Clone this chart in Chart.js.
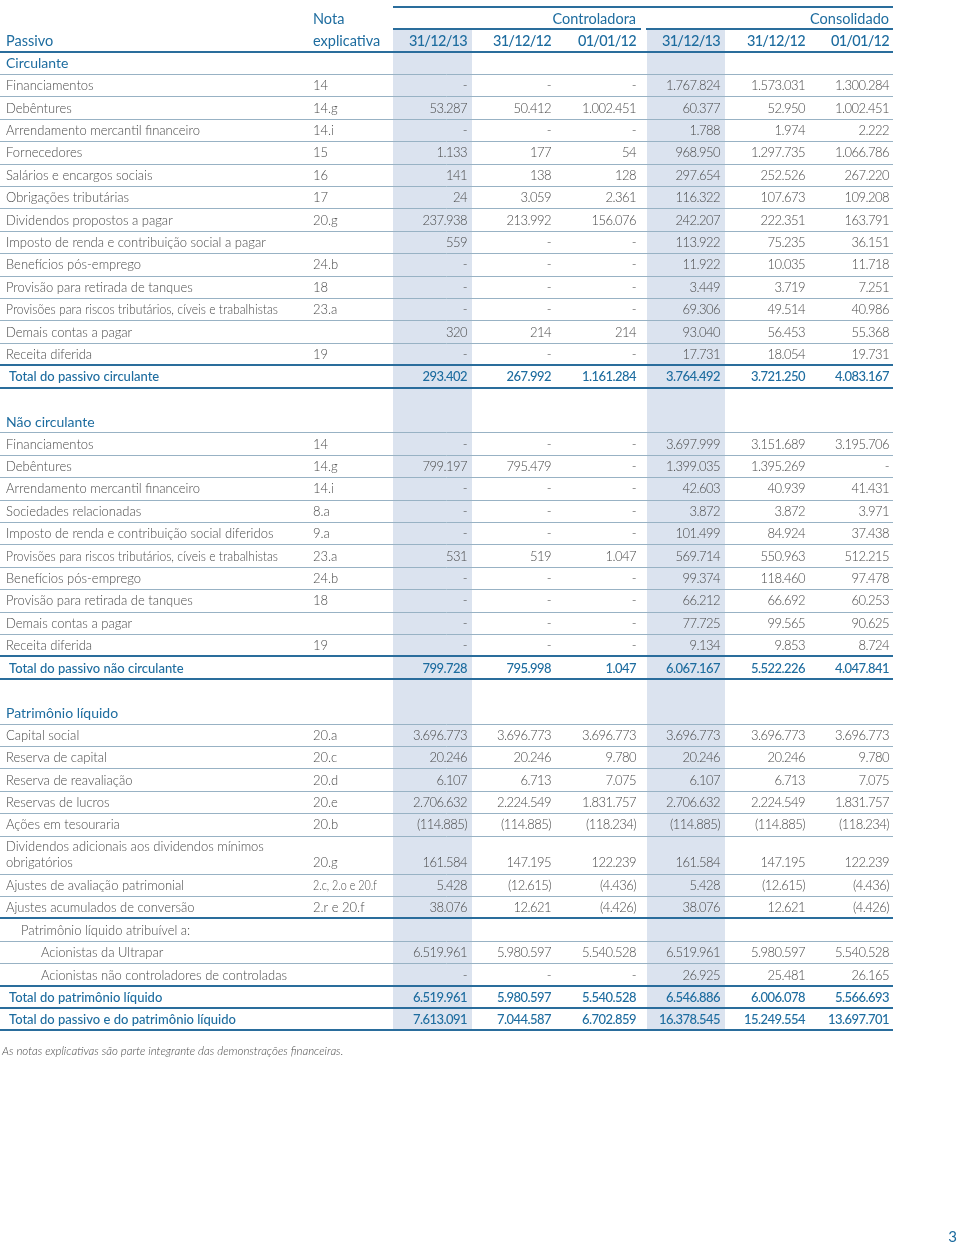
<!DOCTYPE html>
<html lang="pt-BR">
<head>
<meta charset="utf-8">
<script src="https://cdn.jsdelivr.net/npm/chart.js@4.4.0/dist/chart.umd.min.js"></script>
<style>
html, body { margin: 0; padding: 0; background: #fff; }
#wrap { position: relative; width: 960px; height: 1248px; }
</style>
</head>
<body>
<div id="wrap"><canvas id="balanco"></canvas></div>
<script>
// --- DATA ---
const groupHeads = ['Controladora', 'Consolidado'];
const colHeads = ['31/12/13', '31/12/12', '01/01/12', '31/12/13', '31/12/12', '01/01/12'];

const rowLabels = [
  'Circulante', 'Financiamentos', 'Debêntures', 'Arrendamento mercantil financeiro', 'Fornecedores',
  'Salários e encargos sociais', 'Obrigações tributárias', 'Dividendos propostos a pagar',
  'Imposto de renda e contribuição social a pagar', 'Benefícios pós-emprego', 'Provisão para retirada de tanques',
  'Provisões para riscos tributários, cíveis e trabalhistas', 'Demais contas a pagar', 'Receita diferida',
  'Total do passivo circulante', '',
  'Não circulante', 'Financiamentos', 'Debêntures', 'Arrendamento mercantil financeiro', 'Sociedades relacionadas',
  'Imposto de renda e contribuição social diferidos', 'Provisões para riscos tributários, cíveis e trabalhistas',
  'Benefícios pós-emprego', 'Provisão para retirada de tanques', 'Demais contas a pagar', 'Receita diferida',
  'Total do passivo não circulante', '',
  'Patrimônio líquido', 'Capital social', 'Reserva de capital', 'Reserva de reavaliação', 'Reservas de lucros',
  'Ações em tesouraria', 'Dividendos adicionais aos dividendos mínimos\nobrigatórios',
  'Ajustes de avaliação patrimonial', 'Ajustes acumulados de conversão', 'Patrimônio líquido atribuível a:',
  'Acionistas da Ultrapar', 'Acionistas não controladores de controladas',
  'Total do patrimônio líquido', 'Total do passivo e do patrimônio líquido'
];
const rowKinds = [
  'section', 'item', 'item', 'item', 'item', 'item', 'item', 'item', 'item', 'item', 'item', 'item', 'item', 'item',
  'total', 'blank',
  'section', 'item', 'item', 'item', 'item', 'item', 'item', 'item', 'item', 'item', 'item',
  'total', 'blank',
  'section', 'item', 'item', 'item', 'item', 'item', 'item', 'item', 'item', 'subhead',
  'sub', 'sub', 'total', 'total'
];
const rowNotes = [
  '', '14', '14.g', '14.i', '15', '16', '17', '20.g', '', '24.b', '18', '23.a', '', '19', '', '',
  '', '14', '14.g', '14.i', '8.a', '9.a', '23.a', '24.b', '18', '', '19', '', '',
  '', '20.a', '20.c', '20.d', '20.e', '20.b', '20.g', '2.c, 2.o e 20.f', '2.r e 20.f', '', '', '', '', ''
];

// 0 is printed as "-", null means empty cell
const ctrl_2013 = [null, 0, 53287, 0, 1133, 141, 24, 237938, 559, 0, 0, 0, 320, 0, 293402, null,
  null, 0, 799197, 0, 0, 0, 531, 0, 0, 0, 0, 799728, null,
  null, 3696773, 20246, 6107, 2706632, -114885, 161584, 5428, 38076, null, 6519961, 0, 6519961, 7613091];
const ctrl_2012 = [null, 0, 50412, 0, 177, 138, 3059, 213992, 0, 0, 0, 0, 214, 0, 267992, null,
  null, 0, 795479, 0, 0, 0, 519, 0, 0, 0, 0, 795998, null,
  null, 3696773, 20246, 6713, 2224549, -114885, 147195, -12615, 12621, null, 5980597, 0, 5980597, 7044587];
const ctrl_0112 = [null, 0, 1002451, 0, 54, 128, 2361, 156076, 0, 0, 0, 0, 214, 0, 1161284, null,
  null, 0, 0, 0, 0, 0, 1047, 0, 0, 0, 0, 1047, null,
  null, 3696773, 9780, 7075, 1831757, -118234, 122239, -4436, -4426, null, 5540528, 0, 5540528, 6702859];
const cons_2013 = [null, 1767824, 60377, 1788, 968950, 297654, 116322, 242207, 113922, 11922, 3449, 69306, 93040, 17731, 3764492, null,
  null, 3697999, 1399035, 42603, 3872, 101499, 569714, 99374, 66212, 77725, 9134, 6067167, null,
  null, 3696773, 20246, 6107, 2706632, -114885, 161584, 5428, 38076, null, 6519961, 26925, 6546886, 16378545];
const cons_2012 = [null, 1573031, 52950, 1974, 1297735, 252526, 107673, 222351, 75235, 10035, 3719, 49514, 56453, 18054, 3721250, null,
  null, 3151689, 1395269, 40939, 3872, 84924, 550963, 118460, 66692, 99565, 9853, 5522226, null,
  null, 3696773, 20246, 6713, 2224549, -114885, 147195, -12615, 12621, null, 5980597, 25481, 6006078, 15249554];
const cons_0112 = [null, 1300284, 1002451, 2222, 1066786, 267220, 109208, 163791, 36151, 11718, 7251, 40986, 55368, 19731, 4083167, null,
  null, 3195706, 0, 41431, 3971, 37438, 512215, 97478, 60253, 90625, 8724, 4047841, null,
  null, 3696773, 9780, 7075, 1831757, -118234, 122239, -4436, -4426, null, 5540528, 26165, 5566693, 13697701];

const valueCols = [ctrl_2013, ctrl_2012, ctrl_0112, cons_2013, cons_2012, cons_0112];

const footnote = 'As notas explicativas são parte integrante das demonstrações financeiras.';
const pageNumber = '3';

// --- LAYOUT (x in page units, y in row units) ---
const LX = { label: 6, total: 9, subhead: 21, sub: 41, nota: 313, lineEnd: 893,
  valRight: [467, 551, 636, 720, 805, 889], bands: [[393, 472], [647, 725]],
  groupLines: [[393, 641], [646, 893]], groupRight: [636, 889] };
const FIRST_ROW = 2;          // rows start after the two header rows
const TWO_LINE = 1.7;         // height of a wrapped label row
const TEXT_DY = 0.04;         // small downward nudge for text
const FOOT_ROW = 46.07;
const PAGE_ROW = 54.4;

const BLUE = '#1d6c9f';
const DARK = '#2a6d9c';
const THIN = '#98b2c4';
const TEXT = '#4a4a4a';
const BAND = '#dbe3ef';

function fmt(v) {
  if (v === null) return '';
  if (v === 0) return '-';
  const s = Math.abs(v).toString().replace(/\B(?=(\d{3})+(?!\d))/g, '.');
  return v < 0 ? '(' + s + ')' : s;
}

// row tops in row units
const rowTop = [];
let acc = FIRST_ROW - 0.5;
rowLabels.forEach(l => {
  rowTop.push(acc);
  acc += l.includes('\n') ? TWO_LINE : 1;
});
const tableBottom = acc;

const tablePlugin = {
  id: 'tablePlugin',
  beforeDatasetsDraw(chart) {
    const { ctx, scales: { x, y } } = chart;
    const px = v => x.getPixelForValue(v);
    const py = v => y.getPixelForValue(v);

    // shaded 31/12/13 columns
    ctx.fillStyle = BAND;
    LX.bands.forEach(([a, b]) => {
      ctx.fillRect(px(a), py(0.5), px(b) - px(a), py(tableBottom) - py(0.5));
    });

    const hline = (r, x0, x1, thick) => {
      ctx.beginPath();
      ctx.strokeStyle = thick ? DARK : THIN;
      ctx.lineWidth = thick ? 2 : 1;
      const yy = thick ? Math.round(py(r)) : Math.round(py(r)) + 0.5;
      ctx.moveTo(px(x0), yy);
      ctx.lineTo(px(x1), yy);
      ctx.stroke();
    };

    // header lines
    hline(-0.5, LX.groupLines[0][0], LX.lineEnd, true);
    LX.groupLines.forEach(([a, b]) => hline(0.5, a, b, true));
    hline(1.5, 0, LX.lineEnd, true);

    // row separators
    rowKinds.forEach((k, i) => {
      if (k === 'blank') return;
      const next = rowKinds[i + 1];
      if (next === 'blank' && k !== 'total') return;
      const thick = k === 'total' || next === 'total' || next === 'subhead';
      const h = rowLabels[i].includes('\n') ? TWO_LINE : 1;
      hline(rowTop[i] + h, 0, LX.lineEnd, thick);
    });

    // text
    ctx.textBaseline = 'middle';
    const txt = (s, xv, r, align, font, color, spacing, maxW) => {
      ctx.font = font;
      ctx.fillStyle = color;
      ctx.textAlign = align;
      ctx.letterSpacing = spacing || '0px';
      if (maxW) ctx.fillText(s, px(xv), py(r + TEXT_DY), maxW);
      else ctx.fillText(s, px(xv), py(r + TEXT_DY));
    };
    const HEAD = '400 14.5px Lato';
    const HEAD_B = '500 14.5px Lato';
    const SECT = '400 14px Lato';
    const BODY = '300 13px Lato';
    const TOT = '500 13px Lato';
    const NUM_SP = '-0.55px';

    txt('Nota', LX.nota, 0, 'left', HEAD, BLUE);
    groupHeads.forEach((g, j) => txt(g, LX.groupRight[j], 0, 'right', HEAD, BLUE));
    txt('Passivo', LX.label, 1, 'left', HEAD, BLUE);
    txt('explicativa', LX.nota, 1, 'left', HEAD, BLUE);
    colHeads.forEach((c, j) => txt(c, LX.valRight[j], 1, 'right', HEAD_B, BLUE, '-0.7px'));

    rowLabels.forEach((label, i) => {
      const k = rowKinds[i];
      if (k === 'blank') return;
      const two = label.includes('\n');
      const rc = two ? rowTop[i] + TWO_LINE - 0.52 : rowTop[i] + 0.5;
      let font = BODY, color = TEXT, lx = LX.label;
      if (k === 'section') { font = SECT; color = BLUE; }
      if (k === 'total') { font = TOT; color = BLUE; lx = LX.total; }
      if (k === 'subhead') lx = LX.subhead;
      if (k === 'sub') lx = LX.sub;
      // the source squeezes labels that would run into the Nota column
      const maxW = lx === LX.label ? 272 : 300 - lx;
      if (two) {
        const parts = label.split('\n');
        txt(parts[0], lx, rc - 0.72, 'left', font, color, null, maxW);
        txt(parts[1], lx, rc, 'left', font, color, null, maxW);
      } else {
        txt(label, lx, rc, 'left', font, color, null, maxW);
      }
      if (rowNotes[i]) txt(rowNotes[i], LX.nota, rc, 'left', BODY, TEXT, null, 64);
      valueCols.forEach((col, j) => {
        const s = fmt(col[i]);
        if (s) txt(s, LX.valRight[j], rc, 'right', k === 'section' ? BODY : font, color, NUM_SP);
      });
    });

    txt(footnote, 2, FOOT_ROW, 'left', 'italic 300 11.5px Lato', TEXT);
    txt(pageNumber, 957, PAGE_ROW, 'right', '400 15px Lato', BLUE);
  }
};

// 22.4 px per row, header row 0 centred at 18 px
const Y_MIN = -18 / 22.4;
const Y_MAX = Y_MIN + 1248 / 22.4;

new Chart(document.getElementById('balanco'), {
  type: 'scatter',
  data: { datasets: [] },
  options: {
    responsive: true,
    maintainAspectRatio: false,
    animation: false,
    layout: { padding: 0 },
    plugins: { legend: { display: false }, tooltip: { enabled: false } },
    scales: {
      x: { type: 'linear', min: 0, max: 960, display: false },
      y: { type: 'linear', min: Y_MIN, max: Y_MAX, reverse: true, display: false }
    }
  },
  plugins: [tablePlugin]
});
</script>
</body>
</html>
